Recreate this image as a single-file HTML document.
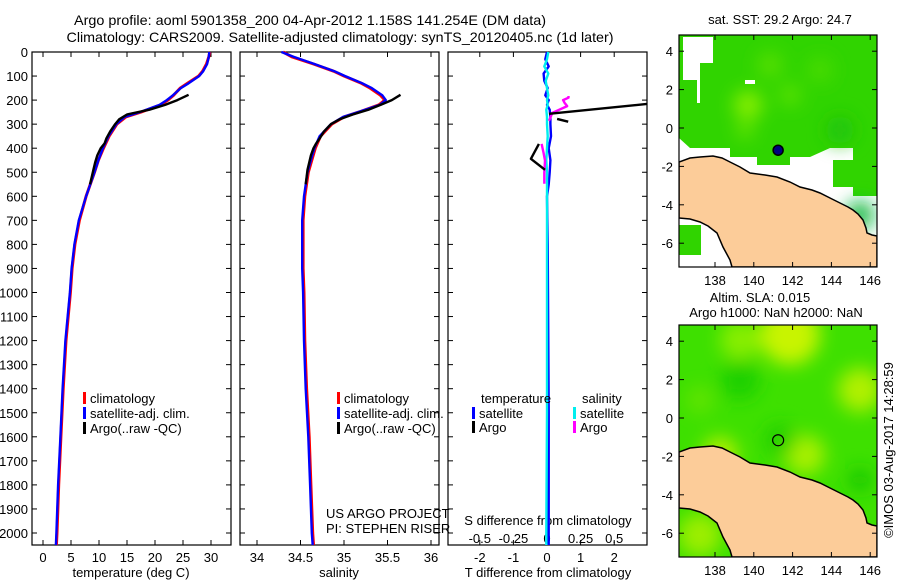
<!DOCTYPE html>
<html><head><meta charset="utf-8"><style>
body{margin:0;background:#fff;}
svg{display:block;font-family:"Liberation Sans",sans-serif;}
</style></head><body>
<svg id="fig" width="900" height="580" viewBox="0 0 900 580" xmlns="http://www.w3.org/2000/svg">
<defs>
<filter id="blur6" x="-50%" y="-50%" width="200%" height="200%"><feGaussianBlur stdDeviation="9"/></filter>
<clipPath id="clipMap1"><rect x="679" y="35" width="198" height="232"/></clipPath>
</defs>
<text x="310" y="25" font-size="14" text-anchor="middle" textLength="472" lengthAdjust="spacingAndGlyphs">Argo profile: aoml 5901358_200 04-Apr-2012 1.158S 141.254E (DM data)</text>
<text x="340" y="42" font-size="14" text-anchor="middle" textLength="547" lengthAdjust="spacingAndGlyphs">Climatology: CARS2009. Satellite-adjusted climatology: synTS_20120405.nc (1d later)</text>
<g id="panels"></g>
<g id="maps"></g>
<text transform="translate(893,450) rotate(-90)" font-size="13" text-anchor="middle">©IMOS 03-Aug-2017 14:28:59</text>
</svg>
<script>
// ---- data ----
const depthClim = [0,20,50,80,100,130,150,180,200,220,250,270,300,350,400,450,500,600,700,800,900,1000,1200,1400,1600,1800,2000,2050];
const tempClim  = [29.8,29.6,29.2,28.5,27.8,25.8,24.5,23.3,22.3,21,17.5,14.8,13.2,11.8,10.8,9.9,9.2,7.7,6.5,5.7,5.2,4.9,4.1,3.6,3.2,2.8,2.5,2.4];
const tempSat   = [29.7,29.6,29.3,28.6,27.9,26,24.6,23.2,22.1,20.8,17.3,14.6,13.1,11.7,10.7,9.9,9.2,7.7,6.4,5.6,5.1,4.8,4.0,3.5,3.1,2.7,2.4,2.3];
const salClim   = [34.3,34.4,34.65,34.88,35.0,35.2,35.3,35.42,35.47,35.4,35.17,35.0,34.86,34.73,34.67,34.63,34.59,34.55,34.53,34.53,34.53,34.54,34.55,34.57,34.6,34.62,34.64,34.65];
const salSat    = [34.28,34.42,34.66,34.89,35.01,35.21,35.32,35.44,35.48,35.41,35.16,34.99,34.85,34.72,34.66,34.62,34.58,34.54,34.52,34.52,34.52,34.53,34.54,34.56,34.59,34.61,34.63,34.64];
const depthArgo = [178,200,220,240,260,280,300,330,360,380,400,430,460,490,520,550];
const tempArgo  = [26,24,21.8,19,15,13.6,12.9,12,11.3,11,10.3,9.7,9.3,9.0,8.7,8.4];
const salArgo   = [35.65,35.55,35.42,35.28,35.1,34.95,34.85,34.77,34.72,34.68,34.65,34.62,34.6,34.58,34.57,34.56];
const depthDT   = [0,30,60,90,120,150,180,200,220,240,270,300,350,400,450,500,550,600,800,1000,1500,2000,2050];
const dTSat     = [0,-0.05,0.05,-0.1,-0.08,0.02,-0.05,0.05,0.0,0.08,0.1,0.1,0.12,0.05,0.1,0.08,0.05,0.0,0.02,0.03,0.05,0.05,0.05];
const dSSat     = [0.01,0.0,-0.02,0.01,-0.01,0.0,0.01,0.0,0.005,-0.005,0.0,0.0,0.005,0.0,-0.005,0.0,0.0,0.0,0.0,0.0,0.0,-0.005,-0.005];
const depthDTArgo = [216,257];
const dTArgo      = [3.0,0.06];
const depthDTArgo2 = [278,290];
const dTArgo2      = [0.3,0.63];
const depthDTArgo3 = [382,444,490];
const dTArgo3      = [-0.24,-0.48,-0.06];
const depthDSArgo = [183,190,200,211,225,253,286];
const dSArgo      = [0.16,0.16,0.12,0.13,0.15,0.04,0.015];
const depthDSArgo2 = [382,420,452,500,548];
const dSArgo2      = [-0.04,-0.025,-0.015,-0.02,-0.02];
const depthTicks = [0,100,200,300,400,500,600,700,800,900,1000,1100,1200,1300,1400,1500,1600,1700,1800,1900,2000];
const tempTicks = [0,5,10,15,20,25,30];
const salTicks = [34,34.5,35,35.5,36];
const salTickLabels = ["34","34.5","35","35.5","36"];
const dTTicks = [-2,-1,0,1,2];
const dSTicks = [-0.5,-0.25,0,0.25,0.5];
const dSTickLabels = ["-0.5","-0.25","0","0.25","0.5"];
const latTicks = [4,2,0,-2,-4,-6];
const lonTicks = [138,140,142,144,146];
const argoLon = [141.254];
const argoLat = [-1.158];

const NS='http://www.w3.org/2000/svg';
function mk(tag, attrs, parent){const e=document.createElementNS(NS,tag);for(const k in attrs)e.setAttribute(k,attrs[k]);(parent||document.getElementById('fig')).appendChild(e);return e;}
const yD = d => 52 + d*0.2405;
const P1 = {x0:32,x1:231}, P2={x0:240,x1:439}, P3={x0:448,x1:647}, TOP=52, BOT=545;
const xT = t => 43 + t*5.6;
const xS = s => 257 + (s-34)*87;
const xDT = v => 547 + v*33.6;
const xDS = v => 547 + v*134.4;
const panels = document.getElementById('panels');

function line(xs, ys, color, w, name, parent){
  let d=''; for(let i=0;i<xs.length;i++) d+=(i?'L':'M')+xs[i].toFixed(1)+','+ys[i].toFixed(1);
  const p=mk('path',{d:d,fill:'none',stroke:color,'stroke-width':w,'stroke-linejoin':'round'},parent||panels);
  
  
  return p;
}
function frame(P,name){
  const r=mk('rect',{x:P.x0,y:TOP,width:P.x1-P.x0,height:BOT-TOP,fill:'none',stroke:'#000','stroke-width':1.2},panels);
  
  
}
function txt(x,y,s,opts,name,parent){
  const t=mk('text',Object.assign({x:x,y:y,'font-size':13},opts||{}),parent||panels);
  t.textContent=s;
  
  
  return t;
}
frame(P1,'temperature-panel-frame');frame(P2,'salinity-panel-frame');frame(P3,'difference-panel-frame');
depthTicks.forEach(d=>{
  const y=yD(d);
  [P1,P2,P3].forEach(P=>{ mk('line',{x1:P.x0,y1:y,x2:P.x0+5,y2:y,stroke:'#000'},panels); mk('line',{x1:P.x1,y1:y,x2:P.x1-5,y2:y,stroke:'#000'},panels);});
  txt(28,y+5,String(d),{'text-anchor':'end'},'depth-tick-label');
});
function xticks(vals,labels,fx,P,ylab,name){
  vals.forEach((v,i)=>{const x=fx(v);
    mk('line',{x1:x,y1:BOT,x2:x,y2:BOT-5,stroke:'#000'},panels);
    mk('line',{x1:x,y1:TOP,x2:x,y2:TOP+5,stroke:'#000'},panels);
    txt(x,ylab,labels[i],{'text-anchor':'middle'},name);});
}
xticks(tempTicks,tempTicks.map(String),xT,P1,562,'temperature-tick-label');
xticks(salTicks,salTickLabels,xS,P2,562,'salinity-tick-label');
xticks(dTTicks,dTTicks.map(String),xDT,P3,562,'t-difference-tick-label');
dSTicks.forEach((v,i)=>txt(xDS(v),543,dSTickLabels[i],{'text-anchor':'middle'},'s-difference-tick-label'));
txt(131,577,'temperature (deg C)',{'text-anchor':'middle'},'temperature-axis-title');
txt(339,577,'salinity',{'text-anchor':'middle'},'salinity-axis-title');
txt(548,577,'T difference from climatology',{'text-anchor':'middle'},'t-difference-axis-title');
txt(548,525,'S difference from climatology',{'text-anchor':'middle'},'s-difference-axis-title');
txt(326,518,'US ARGO PROJECT',{},'project-label');
txt(326,533,'PI: STEPHEN RISER',{},'pi-label');
line(tempClim.map(xT),depthClim.map(yD),'#f00',3,'temperature-climatology-line');
line(tempSat.map(xT),depthClim.map(yD),'#00f',2.4,'temperature-satellite-line');
line(tempArgo.map(xT),depthArgo.map(yD),'#000',2.4,'temperature-argo-line');
line(salClim.map(xS),depthClim.map(yD),'#f00',3,'salinity-climatology-line');
line(salSat.map(xS),depthClim.map(yD),'#00f',2.4,'salinity-satellite-line');
line(salArgo.map(xS),depthArgo.map(yD),'#000',2.4,'salinity-argo-line');
line(dTSat.map(xDT),depthDT.map(yD),'#00f',2.4,'t-diff-satellite-line');
line(dSSat.map(xDS),depthDT.map(yD),'#0ee',2.4,'s-diff-satellite-line');
line(dSArgo.map(xDS),depthDSArgo.map(yD),'#f0f',2.4,'s-diff-argo-line');
line(dSArgo2.map(xDS),depthDSArgo2.map(yD),'#f0f',2.4,'s-diff-argo-line-deep');
const clipP3 = mk('clipPath',{id:'clipP3'}); mk('rect',{x:P3.x0,y:TOP,width:P3.x1-P3.x0,height:BOT-TOP},clipP3);
line(dTArgo.map(xDT),depthDTArgo.map(yD),'#000',2.4,'t-diff-argo-line').setAttribute('clip-path','url(#clipP3)');
line(dTArgo2.map(xDT),depthDTArgo2.map(yD),'#000',2.4,'t-diff-argo-line-2');
line(dTArgo3.map(xDT),depthDTArgo3.map(yD),'#000',2.4,'t-diff-argo-line-3');
function leg(x,y,c,s,name){mk('rect',{x:x,y:y-11,width:3,height:12,fill:c},panels);txt(x+7,y,s,{},name);}
leg(83,403,'#f00','climatology','legend-climatology');
leg(83,418,'#00f','satellite-adj. clim.','legend-satellite');
leg(83,433,'#000','Argo(..raw -QC)','legend-argo');
leg(337,403,'#f00','climatology','legend-climatology-2');
leg(337,418,'#00f','satellite-adj. clim.','legend-satellite-2');
leg(337,433,'#000','Argo(..raw -QC)','legend-argo-2');
txt(481,403,'temperature',{},'legend-temperature-header');
txt(582,403,'salinity',{},'legend-salinity-header');
leg(472,418,'#00f','satellite','legend-t-satellite');
leg(472,432,'#000','Argo','legend-t-argo');
leg(573,418,'#0ee','satellite','legend-s-satellite');
leg(573,432,'#f0f','Argo','legend-s-argo');

// ---- maps ----
const maps=document.getElementById('maps');
const mx = lon => 715 + (lon-138)*19.4;
const my = lat => 128 - lat*19.2;
function mapAxes(off,name){
  const g=mk('g',{transform:'translate(0,'+off+')'},maps);
  
  
  mk('rect',{x:679,y:35,width:198,height:232,fill:'none',stroke:'#000','stroke-width':1.2},g);
  latTicks.forEach(l=>{const y=my(l);mk('line',{x1:679,y1:y,x2:684,y2:y,stroke:'#000'},g);mk('line',{x1:877,y1:y,x2:872,y2:y,stroke:'#000'},g);txt(673,y+5,String(l),{'text-anchor':'end'},'latitude-tick-label',g);});
  lonTicks.forEach(l=>{const x=mx(l);mk('line',{x1:x,y1:267,x2:x,y2:262,stroke:'#000'},g);mk('line',{x1:x,y1:35,x2:x,y2:40,stroke:'#000'},g);txt(x,285,String(l),{'text-anchor':'middle'},'longitude-tick-label',g);});
}
const coast="M679,162 L690,158 L700,157 L713,156 L722,158 L730,162 L740,167 L750,173 L765,175 L777,177 L790,182 L800,187 L812,190 L820,193 L832,199 L840,203 L848,207 L853,210 L858,214 L863,220 L866,228 L867,233 L872,235 L877,236";
const land=coast+" L877,267 L732,267 L730,260 L723,247 L717,233 L708,226 L700,222 L690,219 L679,218 Z";
function drawMap(off,kind){
  const outer=mk('g',{transform:'translate(0,'+off+')'},maps);
  const g=mk('g',{'clip-path':'url(#clipMap1)'},outer);
  
  
  mk('rect',{x:679,y:35,width:198,height:232,fill:'#fff'},g);
  if(kind==1){
    const gr=mk('path',{d:'M679,35 L877,35 L877,196 L853,196 L853,187 L833,187 L833,160 L853,160 L853,148 L830,148 L810,157 L790,157 L790,165 L757,165 L757,157 L730,157 L730,148 L690,148 L679,138 Z',fill:'#30d400'},g);
    
    const b=mk('g',{filter:'url(#blur6)'},g);
    [[748,105,14,'#8cf000'],[770,65,12,'#5ae000'],[790,95,10,'#60e400'],[820,70,12,'#4cdc00'],[745,130,8,'#70e800'],[840,130,14,'#20c410'],[860,215,14,'#10b840']].forEach(c=>mk('circle',{cx:c[0],cy:c[1],r:c[2],fill:c[3]},b));
    mk('path',{d:'M683,37 L713,37 L713,63 L700,63 L700,103 L697,103 L697,80 L683,80 Z',fill:'#fff'},g);
    mk('rect',{x:745,y:80,width:10,height:4,fill:'#fff'},g);
    mk('rect',{x:679,y:225,width:22,height:30,fill:'#30d400'},g);
  } else {
    mk('rect',{x:679,y:35,width:198,height:232,fill:'#3ee000'},g);
    const b=mk('g',{filter:'url(#blur6)'},g);
    [[790,45,30,'#c8f400'],[740,50,20,'#88ee00'],[860,100,22,'#b0f000'],[805,165,20,'#a8f000'],[720,165,18,'#b4f000'],[700,110,14,'#60e400'],[740,90,20,'#1cd000'],[780,150,16,'#20d000'],[700,245,22,'#9cee00'],[860,190,12,'#1cc800']].forEach(c=>mk('circle',{cx:c[0],cy:c[1],r:c[2],fill:c[3]},b));
  }
  const l=mk('path',{d:land,fill:'#fccc99',stroke:'#000','stroke-width':1.5},g);
  
  if(kind==1){
    argoLon.forEach((lo,i)=>{const m=mk('circle',{cx:mx(lo),cy:my(argoLat[i]),r:5,fill:'#000080',stroke:'#000','stroke-width':1.5},g);
      });
  } else {
    argoLon.forEach((lo,i)=>{const m=mk('circle',{cx:mx(lo),cy:my(argoLat[i]),r:5.5,fill:'none',stroke:'#000','stroke-width':1.2},g);
      });
  }
}
drawMap(0,1); drawMap(290,2);
mapAxes(0,'sst-map'); mapAxes(290,'sla-map');
txt(780,24,'sat. SST: 29.2 Argo: 24.7',{'text-anchor':'middle'},'sst-map-title',maps);
txt(760,302,'Altim. SLA: 0.015',{'text-anchor':'middle'},'sla-map-title',maps);
txt(776,317,'Argo h1000: NaN h2000: NaN',{'text-anchor':'middle'},'sla-map-subtitle',maps);
</script>
</body></html>
